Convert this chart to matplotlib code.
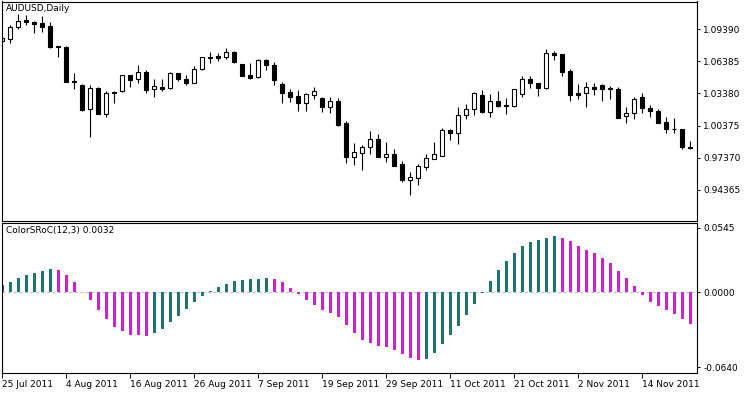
import numpy as np
import pandas as pd
import matplotlib
matplotlib.use("Agg")
import matplotlib.pyplot as plt

plt.rcParams['font.family'] = ['DejaVu Sans']
plt.rcParams['font.size'] = 6

# AUDUSD daily prices
opens = [1.0828, 1.0844, 1.0962, 1.1025, 1.1006, 1.0994, 1.0969, 1.0779, 1.0775, 1.0451,
         1.0417, 1.0190, 1.0392, 1.0149, 1.0351, 1.0364, 1.0508, 1.0470, 1.0538, 1.0377,
         1.0395, 1.0389, 1.0526, 1.0470, 1.0438, 1.0564, 1.0671, 1.0688, 1.0681, 1.0725,
         1.0613, 1.0508, 1.0489, 1.0651, 1.0604, 1.0423, 1.0351, 1.0314, 1.0251, 1.0326,
         1.0293, 1.0208, 1.0267, 1.0059, 0.9746, 0.9784, 0.9834, 0.9909, 0.9746, 0.9772,
         0.9678, 0.9529, 0.9550, 0.9653, 0.9728, 0.9756, 0.9996, 0.9965, 1.0133, 1.0190,
         1.0321, 1.0167, 1.0267, 1.0222, 1.0221, 1.0330, 1.0470, 1.0433, 1.0392, 1.0719,
         1.0707, 1.0548, 1.0339, 1.0339, 1.0395, 1.0414, 1.0386, 1.0377, 1.0124, 1.0152,
         1.0307, 1.0202, 1.0171, 1.0071, 1.0006, 1.0003, 0.9837]
highs = [1.0875, 1.0975, 1.1081, 1.1074, 1.1018, 1.1062, 1.1006, 1.0779, 1.0782, 1.0532,
         1.0423, 1.0417, 1.0395, 1.0364, 1.0364, 1.0513, 1.0510, 1.0604, 1.0557, 1.0476,
         1.0470, 1.0538, 1.0532, 1.0513, 1.0594, 1.0681, 1.0728, 1.0719, 1.0763, 1.0732,
         1.0615, 1.0625, 1.0657, 1.0657, 1.0632, 1.0445, 1.0377, 1.0370, 1.0345, 1.0395,
         1.0307, 1.0307, 1.0293, 1.0077, 0.9872, 0.9856, 0.9987, 0.9956, 0.9884, 0.9821,
         0.9709, 0.9603, 0.9678, 0.9772, 0.9884, 1.0018, 1.0008, 1.0214, 1.0239, 1.0351,
         1.0370, 1.0333, 1.0364, 1.0295, 1.0382, 1.0501, 1.0501, 1.0435, 1.0756, 1.0738,
         1.0709, 1.0564, 1.0426, 1.0445, 1.0438, 1.0426, 1.0408, 1.0395, 1.0208, 1.0302,
         1.0345, 1.0227, 1.0192, 1.0115, 1.0108, 1.0005, 0.9896]
lows = [1.0819, 1.0812, 1.0938, 1.0975, 1.0906, 1.0912, 1.0766, 1.0676, 1.0445, 1.0377,
        1.0177, 0.9928, 1.0146, 1.0115, 1.0246, 1.0354, 1.0401, 1.0433, 1.0345, 1.0307,
        1.0364, 1.0382, 1.0451, 1.0414, 1.0433, 1.0557, 1.0620, 1.0644, 1.0657, 1.0625,
        1.0499, 1.0476, 1.0482, 1.0557, 1.0420, 1.0251, 1.0261, 1.0177, 1.0177, 1.0289,
        1.0167, 1.0152, 1.0036, 0.9690, 0.9672, 0.9622, 0.9772, 0.9744, 0.9697, 0.9660,
        0.9510, 0.9391, 0.9482, 0.9622, 0.9726, 0.9754, 0.9903, 0.9865, 1.0102, 1.0136,
        1.0152, 1.0120, 1.0208, 1.0146, 1.0208, 1.0307, 1.0392, 1.0314, 1.0382, 1.0651,
        1.0501, 1.0270, 1.0283, 1.0208, 1.0321, 1.0270, 1.0283, 1.0108, 1.0059, 1.0102,
        1.0158, 1.0115, 1.0059, 0.9971, 0.9965, 0.9816, 0.9816]
closes = [1.0856, 1.0962, 1.1018, 1.1006, 1.0987, 1.0962, 1.0775, 1.0772, 1.0448, 1.0442,
          1.0183, 1.0386, 1.0149, 1.0339, 1.0339, 1.0508, 1.0464, 1.0538, 1.0370, 1.0408,
          1.0382, 1.0532, 1.0470, 1.0438, 1.0564, 1.0676, 1.0679, 1.0669, 1.0725, 1.0632,
          1.0501, 1.0482, 1.0651, 1.0601, 1.0464, 1.0345, 1.0307, 1.0251, 1.0330, 1.0358,
          1.0208, 1.0264, 1.0043, 0.9746, 0.9790, 0.9840, 0.9909, 0.9746, 0.9772, 0.9662,
          0.9529, 0.9554, 0.9662, 0.9734, 0.9772, 0.9996, 0.9965, 1.0136, 1.0195, 1.0339,
          1.0167, 1.0267, 1.0221, 1.0230, 1.0377, 1.0470, 1.0433, 1.0392, 1.0713, 1.0695,
          1.0541, 1.0326, 1.0326, 1.0395, 1.0377, 1.0377, 1.0380, 1.0111, 1.0152, 1.0283,
          1.0199, 1.0171, 1.0064, 1.0003, 1.0001, 0.9834, 0.9830]

# ColorSRoC(12,3) histogram
sroc = [0.0060, 0.0088, 0.0122, 0.0145, 0.0162, 0.0179, 0.0192, 0.0190, 0.0145, 0.0088,
        -0.0003, -0.0068, -0.0153, -0.0230, -0.0298, -0.0332, -0.0366, -0.0368, -0.0374, -0.0349,
        -0.0315, -0.0255, -0.0204, -0.0145, -0.0085, -0.0034, 0.0011, 0.0045, 0.0068, 0.0096,
        0.0102, 0.0110, 0.0112, 0.0119, 0.0110, 0.0085, 0.0034, -0.0017, -0.0068, -0.0110,
        -0.0153, -0.0179, -0.0213, -0.0281, -0.0349, -0.0408, -0.0434, -0.0459, -0.0468, -0.0493,
        -0.0527, -0.0561, -0.0578, -0.0570, -0.0519, -0.0442, -0.0366, -0.0289, -0.0196, -0.0102,
        -0.0008, 0.0094, 0.0187, 0.0264, 0.0332, 0.0391, 0.0425, 0.0442, 0.0459, 0.0476,
        0.0459, 0.0434, 0.0391, 0.0357, 0.0332, 0.0289, 0.0247, 0.0179, 0.0119, 0.0051,
        -0.0026, -0.0085, -0.0119, -0.0153, -0.0187, -0.0230, -0.0272]

price_ticks = [1.09390, 1.06385, 1.03380, 1.00375, 0.97370, 0.94365]
sroc_ticks = [0.0545, 0.0, -0.0640]
sroc_labels = ['0.0545', '0.0000', '-0.0640']

dates = pd.bdate_range('2011-07-25', periods=len(closes))
x = np.arange(len(closes))

o = np.array(opens); c = np.array(closes)
up = c >= o

fig = plt.figure(figsize=(7.5, 3.94), dpi=100)
ax1 = fig.add_axes([2/750, 1-221/394, 695/750, 219.5/394])
ax2 = fig.add_axes([2/750, 1-373/394, 695/750, 150/394])

# candles
ax1.vlines(x, lows, highs, color='black', linewidth=0.8, zorder=1)
body_h = np.maximum(np.abs(c - o), 0.00005)
ax1.bar(x, body_h, bottom=np.minimum(o, c), width=0.6,
        color=np.where(up, 'white', 'black'), edgecolor='black', linewidth=0.8, zorder=2)
ax1.set_xlim(0, 86.875)
ax1.set_ylim(0.9145, 1.1198)
ax1.set_xticks([])
ax1.yaxis.tick_right()
ax1.set_yticks(price_ticks)
ax1.set_yticklabels(['%.5f' % t for t in price_ticks])
ax1.text(0.006, 0.99, 'AUDUSD,Daily', transform=ax1.transAxes, ha='left', va='top', fontsize=6.5)

# histogram
s = np.array(sroc)
rising = np.concatenate([[True], s[1:] >= s[:-1]])
ax2.bar(x, s, width=0.375, color=np.where(rising, '#008080', '#ff00ff'), zorder=2)
ax2.axhline(0, color='#c0c0c0', linestyle=(0, (3, 2)), linewidth=0.8, zorder=1)
ax2.set_xlim(0, 86.875)
ax2.set_ylim(-0.0689, 0.0587)
ax2.yaxis.tick_right()
ax2.set_yticks(sroc_ticks)
ax2.set_yticklabels(sroc_labels)
ax2.text(0.006, 0.98, 'ColorSRoC(12,3) 0.0032', transform=ax2.transAxes, ha='left', va='top', fontsize=6.5)

tick_idx = x[::8]
ax2.set_xticks(tick_idx)
ax2.set_xticklabels([f'{d.day} {d:%b %Y}' for d in dates[tick_idx]], ha='left')

for ax in (ax1, ax2):
    for sp in ax.spines.values():
        sp.set_linewidth(0.8)
    ax.tick_params(axis='y', direction='out', length=2.5, width=0.7, pad=2, labelsize=6.5)
    ax.tick_params(axis='x', direction='out', length=3.5, width=0.7, pad=1.5, labelsize=6.5)

fig.savefig('out.png', dpi=100)
